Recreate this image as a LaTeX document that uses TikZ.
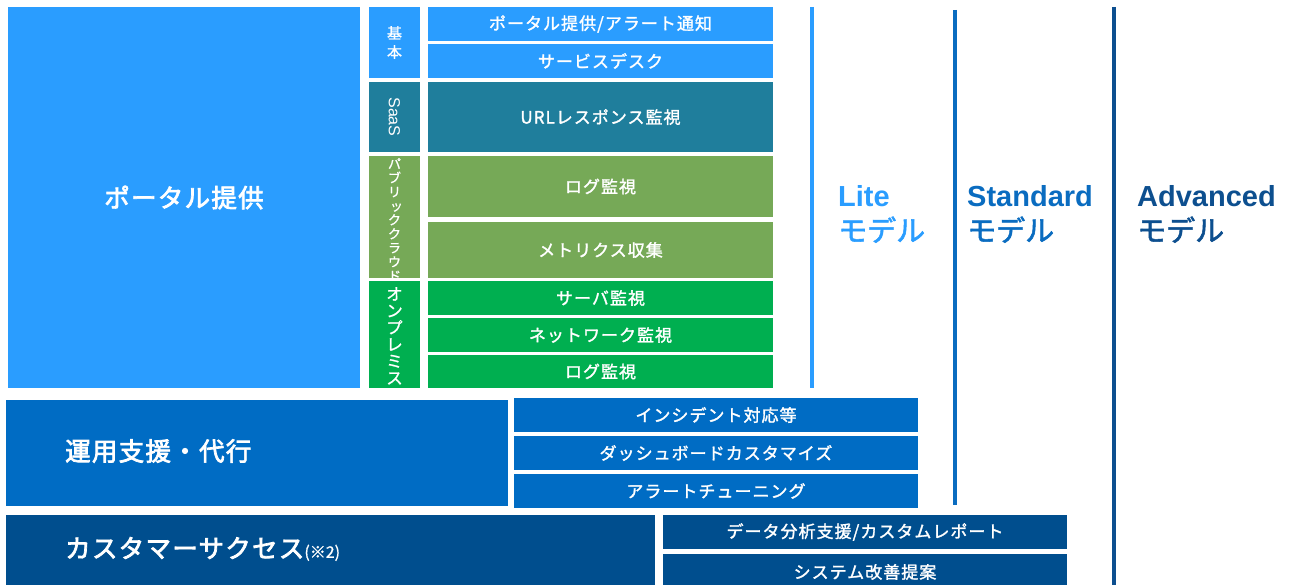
\documentclass[tikz,border=0pt]{standalone}
\usepackage{fontspec}
\setmainfont{Noto Sans CJK JP}
\newfontfamily\latf{Liberation Sans}
\newfontfamily\jpm[FakeBold=1.6, LetterSpace=6]{Noto Sans CJK JP}
\newfontfamily\jpb[FakeBold=2.8, LetterSpace=5]{Noto Sans CJK JP}
\newfontfamily\jpv[FakeBold=1.0]{Noto Sans CJK JP}
\newfontfamily\jpmodel[FakeBold=1.8]{Noto Sans CJK JP}
\definecolor{cLight}{HTML}{2A9DFF}
\definecolor{cTeal}{HTML}{1F7E9C}
\definecolor{cPub}{HTML}{76A957}
\definecolor{cOnp}{HTML}{00AF50}
\definecolor{cOps}{HTML}{006CC4}
\definecolor{cCS}{HTML}{004E8E}
\definecolor{cStd}{HTML}{0A6CC0}
\definecolor{cAdv}{HTML}{0D4F8F}
\newcommand\bx[7]{\node[box,#6,minimum width=#4pt,minimum height=#5pt] (#1) at ({#2+#4/2},{#3+#5/2}) {#7};}
\tikzset{
  box/.style={inner sep=0pt, outer sep=0pt, text=white},
  sub/.style={font=\jpm\fontsize{17}{20}\selectfont},
  big/.style={font=\jpb\fontsize{25.5}{30}\selectfont},
  vert/.style={align=center, font=\jpv\fontsize{15}{19}\selectfont},
  model/.style={anchor=north west, inner sep=0pt, align=left, font=\fontsize{29}{35}\selectfont},
  vline/.style={line width=3.5pt}
}
\begin{document}
\begin{tikzpicture}[x=1pt,y=-1pt]
\useasboundingbox (0,0) rectangle (1292,585);
% top-left block
\bx{portal}{8}{7}{352}{381}{fill=cLight,big}{ポータル提供}
\bx{kihon}{369}{7}{51}{71}{fill=cLight,vert}{基\\本}
\bx{saas}{369}{82}{51}{70}{fill=cTeal}{}
\node[rotate=-90, text=white, font=\latf\fontsize{16}{18}\selectfont] (saast) at (saas.center) {SaaS};
\bx{pub}{369}{156}{51}{122}{fill=cPub}{}
\begin{scope}
\clip (369,156) rectangle (420,278);
\node[anchor=north, text=white, align=center, inner sep=0pt, font=\jpv\fontsize{13}{14}\selectfont] (pubt) at (394.5,158) {パ\\ブ\\リ\\\hspace*{0.3em}ッ\\ク\\ク\\ラ\\ウ\\ド};
\end{scope}
\bx{onp}{369}{281}{51}{107}{fill=cOnp}{}
\node[anchor=north, text=white, align=center, inner sep=0pt, font=\jpv\fontsize{16.5}{16.8}\selectfont] (onpt) at (394.5,287) {オ\\ン\\プ\\レ\\ミ\\ス};
% right column
\bx{r1}{428}{7}{345}{34}{fill=cLight,sub}{ポータル提供/アラート通知}
\bx{r2}{428}{44}{345}{34}{fill=cLight,sub}{サービスデスク}
\bx{r3}{428}{82}{345}{70}{fill=cTeal,sub}{URLレスポンス監視}
\bx{r4}{428}{156}{345}{61}{fill=cPub,sub}{ログ監視}
\bx{r5}{428}{222}{345}{56}{fill=cPub,sub}{メトリクス収集}
\bx{r6}{428}{281}{345}{34}{fill=cOnp,sub}{サーバ監視}
\bx{r7}{428}{318}{345}{34}{fill=cOnp,sub}{ネットワーク監視}
\bx{r8}{428}{355}{345}{33}{fill=cOnp,sub}{ログ監視}
% operations support
\bx{ops}{6}{400}{502}{106}{fill=cOps}{}
\node[anchor=west, text=white, big, inner sep=0pt] (opst) at (65,451) {運用支援・代行};
\bx{o1}{514}{398}{404}{34}{fill=cOps,sub}{インシデント対応等}
\bx{o2}{514}{436}{404}{34}{fill=cOps,sub}{ダッシュボードカスタマイズ}
\bx{o3}{514}{474}{404}{34}{fill=cOps,sub}{アラートチューニング}
% customer success
\bx{cs}{6}{515}{649}{75}{fill=cCS}{}
\node[anchor=west, text=white, big, inner sep=0pt] (cst) at (65,549) {カスタマーサクセス{\jpv\fontsize{16}{18}\selectfont (※2)}};
\bx{c1}{663}{515}{404}{34}{fill=cCS,sub}{データ分析支援/カスタムレポート}
\bx{c2}{663}{554}{404}{36}{fill=cCS,sub}{システム改善提案}
% model lines
\coordinate (liteA) at (812,7);
\coordinate (liteB) at (812,388);
\coordinate (stdA) at (955,10);
\coordinate (stdB) at (955,505);
\coordinate (advA) at (1114,7);
\coordinate (advB) at (1114,590);
\draw[vline, cLight] (liteA) -- (liteB);
\draw[vline, cStd] (stdA) -- (stdB);
\draw[vline, cAdv] (advA) -- (advB);
\node[model, text=cLight] (lite) at (838,185) {{\latf\bfseries Lite}\\{\jpmodel モデル}};
\node[model, text=cStd] (std) at (967,185) {{\latf\bfseries Standard}\\{\jpmodel モデル}};
\node[model, text=cAdv] (adv) at (1137,185) {{\latf\bfseries Advanced}\\{\jpmodel モデル}};
\end{tikzpicture}
\end{document}
